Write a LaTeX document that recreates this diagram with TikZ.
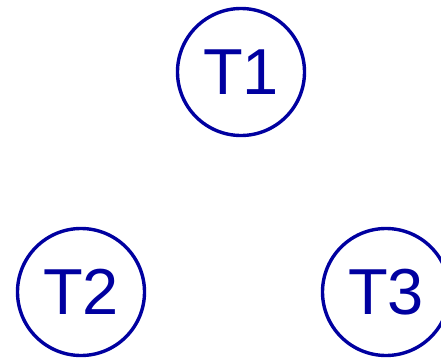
\documentclass[tikz,border=0pt]{standalone}
\usepackage{fontspec}
\setmainfont{Liberation Sans}
\usepackage{xcolor}
\usetikzlibrary{positioning}
\definecolor{taskline}{RGB}{0,0,160}

\begin{document}
\begin{tikzpicture}[
    x=1pt, y=1pt,
    font=\fontsize{65}{78}\selectfont,
    task/.style={circle, draw=taskline, text=taskline, line width=3.4pt,
      minimum size=127pt, inner sep=0pt}
  ]
    \useasboundingbox (0,0) rectangle (441,357);
    \clip (0,0) rectangle (441,357);
    \node[task] (t1) at (241,285) {T1};
    \node[task] (t2) at (81,65) {T2};
    \node[task] (t3) at (386,65) {T3};
  \end{tikzpicture}
\end{document}
